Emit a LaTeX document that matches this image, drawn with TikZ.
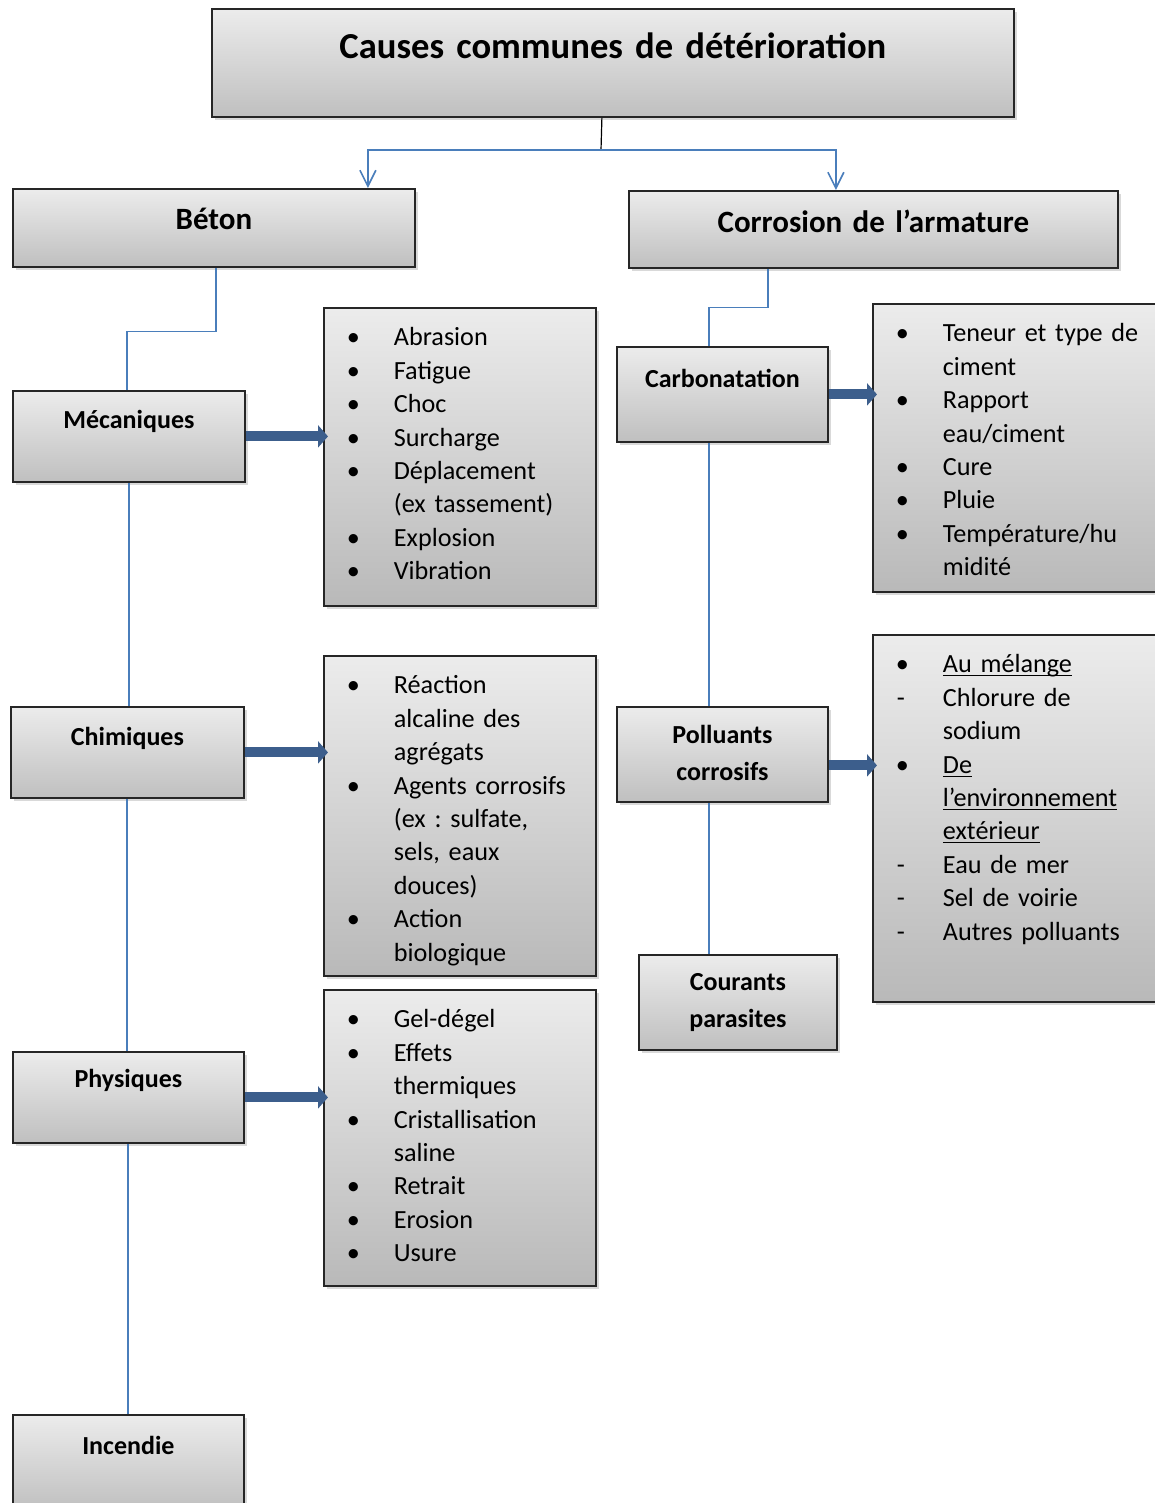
\documentclass[tikz,border=0pt]{standalone}
\usepackage{fontspec}
\setmainfont{Carlito}
\usetikzlibrary{arrows.meta,positioning,calc,shadows}
\definecolor{linkblue}{RGB}{74,126,187}
\definecolor{arrowblue}{RGB}{60,94,140}
\frenchspacing

% list lines: bullet, dash, continuation
\newcommand{\blt}[1]{\makebox[35pt][l]{\hspace{11.5pt}\textbullet}#1}
\newcommand{\dsh}[1]{\makebox[35pt][l]{\hspace{12pt}-}#1}
\newcommand{\cnt}[1]{\hspace*{35pt}#1}
\newcommand{\undl}[1]{\underline{\smash{#1}}}

\tikzset{
  box/.style={draw=black!85, line width=0.9pt, top color=gray!15, bottom color=gray!50,
    inner sep=0pt, align=center, anchor=north west,
    drop shadow={shadow xshift=1.5pt, shadow yshift=-1.5pt, opacity=0.3}},
  head/.style={box, font=\bfseries\fontsize{15.5}{19}\selectfont},
  cause/.style={box, font=\bfseries\fontsize{13}{18.5}\selectfont},
  items/.style={box, bottom color=gray!55, align=left, text height=19pt,
    font=\fontsize{13.1}{16.7}\selectfont},
  link/.style={draw=linkblue, line width=0.6pt},
  trunk/.style={draw=linkblue, line width=1pt},
  split/.style={linkblue, line width=0.8pt, -{Straight Barb[length=8pt,width=8pt]}},
  feed/.style={arrowblue, line width=5pt, -{Triangle[length=5pt,width=11pt]}, shorten >=-2.5pt},
}

\begin{document}
\begin{tikzpicture}[x=0.5pt, y=-0.5pt]
    \useasboundingbox (0,0) rectangle (1155,1503);

    % headings
    \node[head, text width=401pt, text height=25pt, text depth=29pt,
      font=\bfseries\fontsize{18.3}{22}\selectfont] (title) at (211,8) {Causes communes de détérioration};
    \node[head, text width=201pt, text height=20.5pt, text depth=18.5pt] (beton) at (12,188) {Béton};
    \node[head, text width=244.5pt, text height=21pt, text depth=17.5pt] (corr) at (628,190) {Corrosion de l’armature};

    % concrete causes
    \node[cause, text width=116pt, text height=19pt, text depth=26.5pt] (meca) at (12,390) {Mécaniques};
    \node[cause, text width=116.5pt, text height=19.5pt, text depth=26pt] (chim) at (10,706) {Chimiques};
    \node[cause, text width=115.5pt, text height=18pt, text depth=27.5pt] (phys) at (12,1051) {Physiques};
    \node[cause, text width=115.5pt, text height=20pt, text depth=28pt] (incend) at (12,1414) {Incendie};

    % reinforcement causes
    \node[cause, text width=105.5pt, text height=20.5pt, text depth=27pt] (carbo) at (616,346) {Carbonatation};
    \node[cause, text width=105.5pt, text height=18.5pt, text depth=29pt] (poll) at (616,706) {Polluants\\corrosifs};
    \node[cause, text width=99pt, text height=18pt, text depth=29.5pt] (cour) at (638,954) {Courants\\parasites};

    % lists
    \node[items, text width=136pt, text depth=130pt] (mecalist) at (323,307) {%
      \blt{Abrasion}\\\blt{Fatigue}\\\blt{Choc}\\\blt{Surcharge}\\\blt{Déplacement}\\
      \cnt{(ex tassement)}\\\blt{Explosion}\\\blt{Vibration}};
    \node[items, text width=136pt, text depth=141pt] (chimlist) at (323,655) {%
      \blt{Réaction}\\\cnt{alcaline des}\\\cnt{agrégats}\\\blt{Agents corrosifs}\\
      \cnt{(ex : sulfate,}\\\cnt{sels, eaux}\\\cnt{douces)}\\\blt{Action}\\\cnt{biologique}};
    \node[items, text width=136pt, text depth=129pt] (physlist) at (323,989) {%
      \blt{Gel-dégel}\\\blt{Effets}\\\cnt{thermiques}\\\blt{Cristallisation}\\\cnt{saline}\\
      \blt{Retrait}\\\blt{Erosion}\\\blt{Usure}};
    \node[items, text width=150pt, text depth=125pt] (carbolist) at (872,303) {%
      \blt{Teneur et type de}\\\cnt{ciment}\\\blt{Rapport}\\\cnt{eau/ciment}\\\blt{Cure}\\
      \blt{Pluie}\\\blt{Température/hu}\\\cnt{midité}};
    \node[items, text width=150pt, text depth=164.5pt] (polllist) at (872,634) {%
      \blt{\undl{Au mélange}}\\\dsh{Chlorure de}\\\cnt{sodium}\\\blt{\undl{De}}\\
      \cnt{\undl{l’environnement}}\\\cnt{\undl{extérieur}}\\\dsh{Eau de mer}\\
      \dsh{Sel de voirie}\\\dsh{Autres polluants}};

    % tree connectors
    \coordinate (fork) at (601,150);
    \draw[black, line width=0.6pt] ($(title.south)+(-11,0)$) -- (fork);
    \draw[split] (fork) -| ([xshift=77pt]beton.north);
    \draw[split] (fork) -| ([xshift=-18.75pt]corr.north);
    \draw[link] ([xshift=1pt]beton.south) -- ++(0,64) -| ([xshift=-1pt]meca.north);
    \draw[trunk] (meca.south) -- (meca.south |- chim.north);
    \draw[trunk] (chim.south) -- (chim.south |- phys.north);
    \draw[trunk] (phys.south) -- (phys.south |- incend.north);
    \draw[link] ([xshift=-52.75pt]corr.south) -- ++(0,39) -| ([xshift=-6.75pt]carbo.north);
    \draw[trunk] ([xshift=-6.75pt]carbo.south) -- ([xshift=-6.75pt]poll.north);
    \draw[trunk] ([xshift=-6.75pt]poll.south) -- ([xshift=-6.75pt]poll.south |- cour.north);

    % cause -> details
    \draw[feed] (meca.east) -- (meca.east -| mecalist.west);
    \draw[feed] (chim.east) -- (chim.east -| chimlist.west);
    \draw[feed] (phys.east) -- (phys.east -| physlist.west);
    \draw[feed] (carbo.east) -- (carbo.east -| carbolist.west);
    \draw[feed] ([yshift=-5.5pt]poll.east) -- ([yshift=-5.5pt]poll.east -| polllist.west);
\end{tikzpicture}
\end{document}
